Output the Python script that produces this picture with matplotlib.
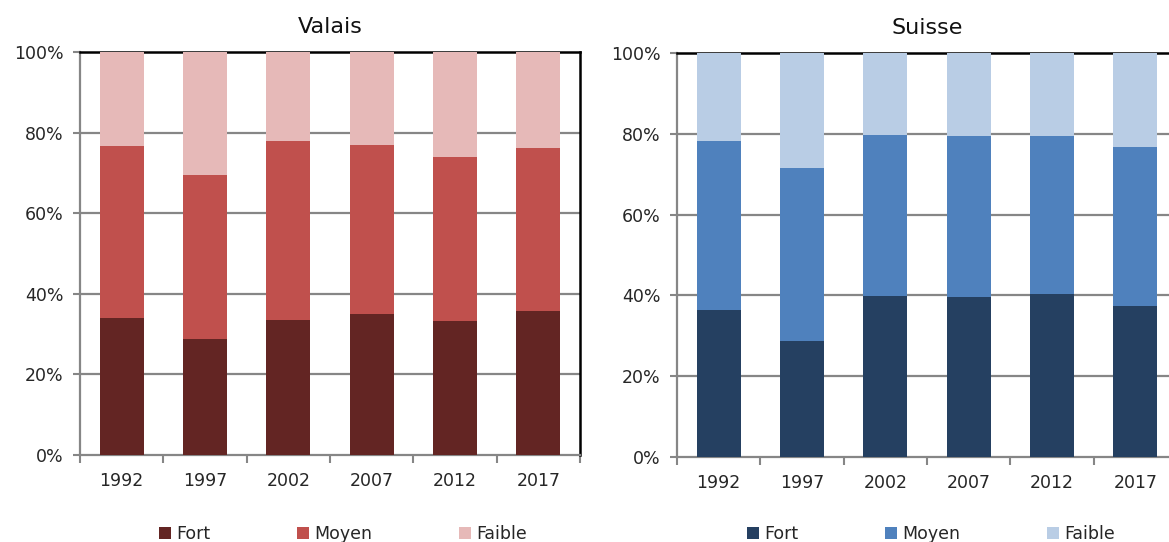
import matplotlib
matplotlib.use("Agg")
import matplotlib.pyplot as plt
import numpy as np
from matplotlib.patches import Patch
from matplotlib.ticker import FixedLocator, FuncFormatter

years = ["1992", "1997", "2002", "2007", "2012", "2017"]
series = ["Fort", "Moyen", "Faible"]

valais_fort = [33.9, 28.8, 33.5, 34.9, 33.2, 35.8]
valais_moyen = [42.7, 40.7, 44.3, 41.9, 40.8, 40.4]
valais_faible = [23.4, 30.5, 22.2, 23.2, 26.0, 23.8]

suisse_fort = [36.4, 28.8, 39.9, 39.7, 40.4, 37.5]
suisse_moyen = [41.8, 42.7, 39.9, 39.8, 39.1, 39.2]
suisse_faible = [21.8, 28.5, 20.2, 20.5, 20.5, 23.3]

valais_colors = ["#632523", "#C0504D", "#E6B9B8"]
suisse_colors = ["#254061", "#4F81BD", "#B9CDE5"]

plt.rcParams['font.family'] = ['DejaVu Sans']

W, H = 1169, 542
fig = plt.figure(figsize=(W / 100, H / 100), dpi=100)

GRID = "#868686"
TXT = "#262626"


def panel(rect, title, data, colors, legend_x):
    ax = fig.add_axes(rect)
    x = np.arange(len(years))
    bottom = np.zeros(len(years))
    for vals, col in zip(data, colors):
        ax.bar(x, vals, width=0.53, bottom=bottom, color=col, zorder=3,
               edgecolor=col, linewidth=0)
        bottom += np.array(vals)
    ax.set_xlim(-0.5, len(years) - 0.5)
    ax.set_ylim(0, 100)
    ax.set_yticks([0, 20, 40, 60, 80, 100])
    ax.yaxis.set_major_formatter(FuncFormatter(lambda v, p: f"{int(v)}%"))
    ax.set_xticks(x)
    ax.set_xticklabels(years)
    ax.xaxis.set_minor_locator(FixedLocator(np.arange(-0.5, len(years), 1.0)))
    ax.tick_params(axis='x', which='major', length=0, pad=12, labelsize=12.5, colors=TXT)
    ax.tick_params(axis='x', which='minor', length=6, width=1.5, color=GRID, direction='out')
    ax.tick_params(axis='y', length=5, width=1.5, color=GRID, pad=7, labelsize=12.5, labelcolor=TXT)
    for yv in [20, 40, 60, 80]:
        ax.axhline(yv, color=GRID, linewidth=1.6, zorder=1)
    ax.spines['left'].set_color(GRID)
    ax.spines['left'].set_linewidth(1.6)
    ax.spines['bottom'].set_color(GRID)
    ax.spines['bottom'].set_linewidth(1.6)
    ax.spines['top'].set_color('black')
    ax.spines['top'].set_linewidth(1.8)
    ax.spines['right'].set_color('black')
    ax.spines['right'].set_linewidth(1.8)
    ax.set_title(title, fontsize=16, pad=14, color="#111111")
    handles = [Patch(facecolor=c, edgecolor='none') for c in colors]
    fig.legend(handles, series, loc='center', bbox_to_anchor=(legend_x, 1 - 534 / H),
               ncol=3, frameon=False, fontsize=12.5, handlelength=0.7,
               handleheight=0.7, handletextpad=0.3, columnspacing=5.0,
               labelcolor=TXT)
    return ax


panel([80 / W, 1 - 455 / H, 500 / W, 403 / H], "Valais",
      [valais_fort, valais_moyen, valais_faible], valais_colors, 343 / W)
panel([677 / W, 1 - 457 / H, 500 / W, 404 / H], "Suisse",
      [suisse_fort, suisse_moyen, suisse_faible], suisse_colors, 931 / W)

fig.savefig("out.png", dpi=100)
